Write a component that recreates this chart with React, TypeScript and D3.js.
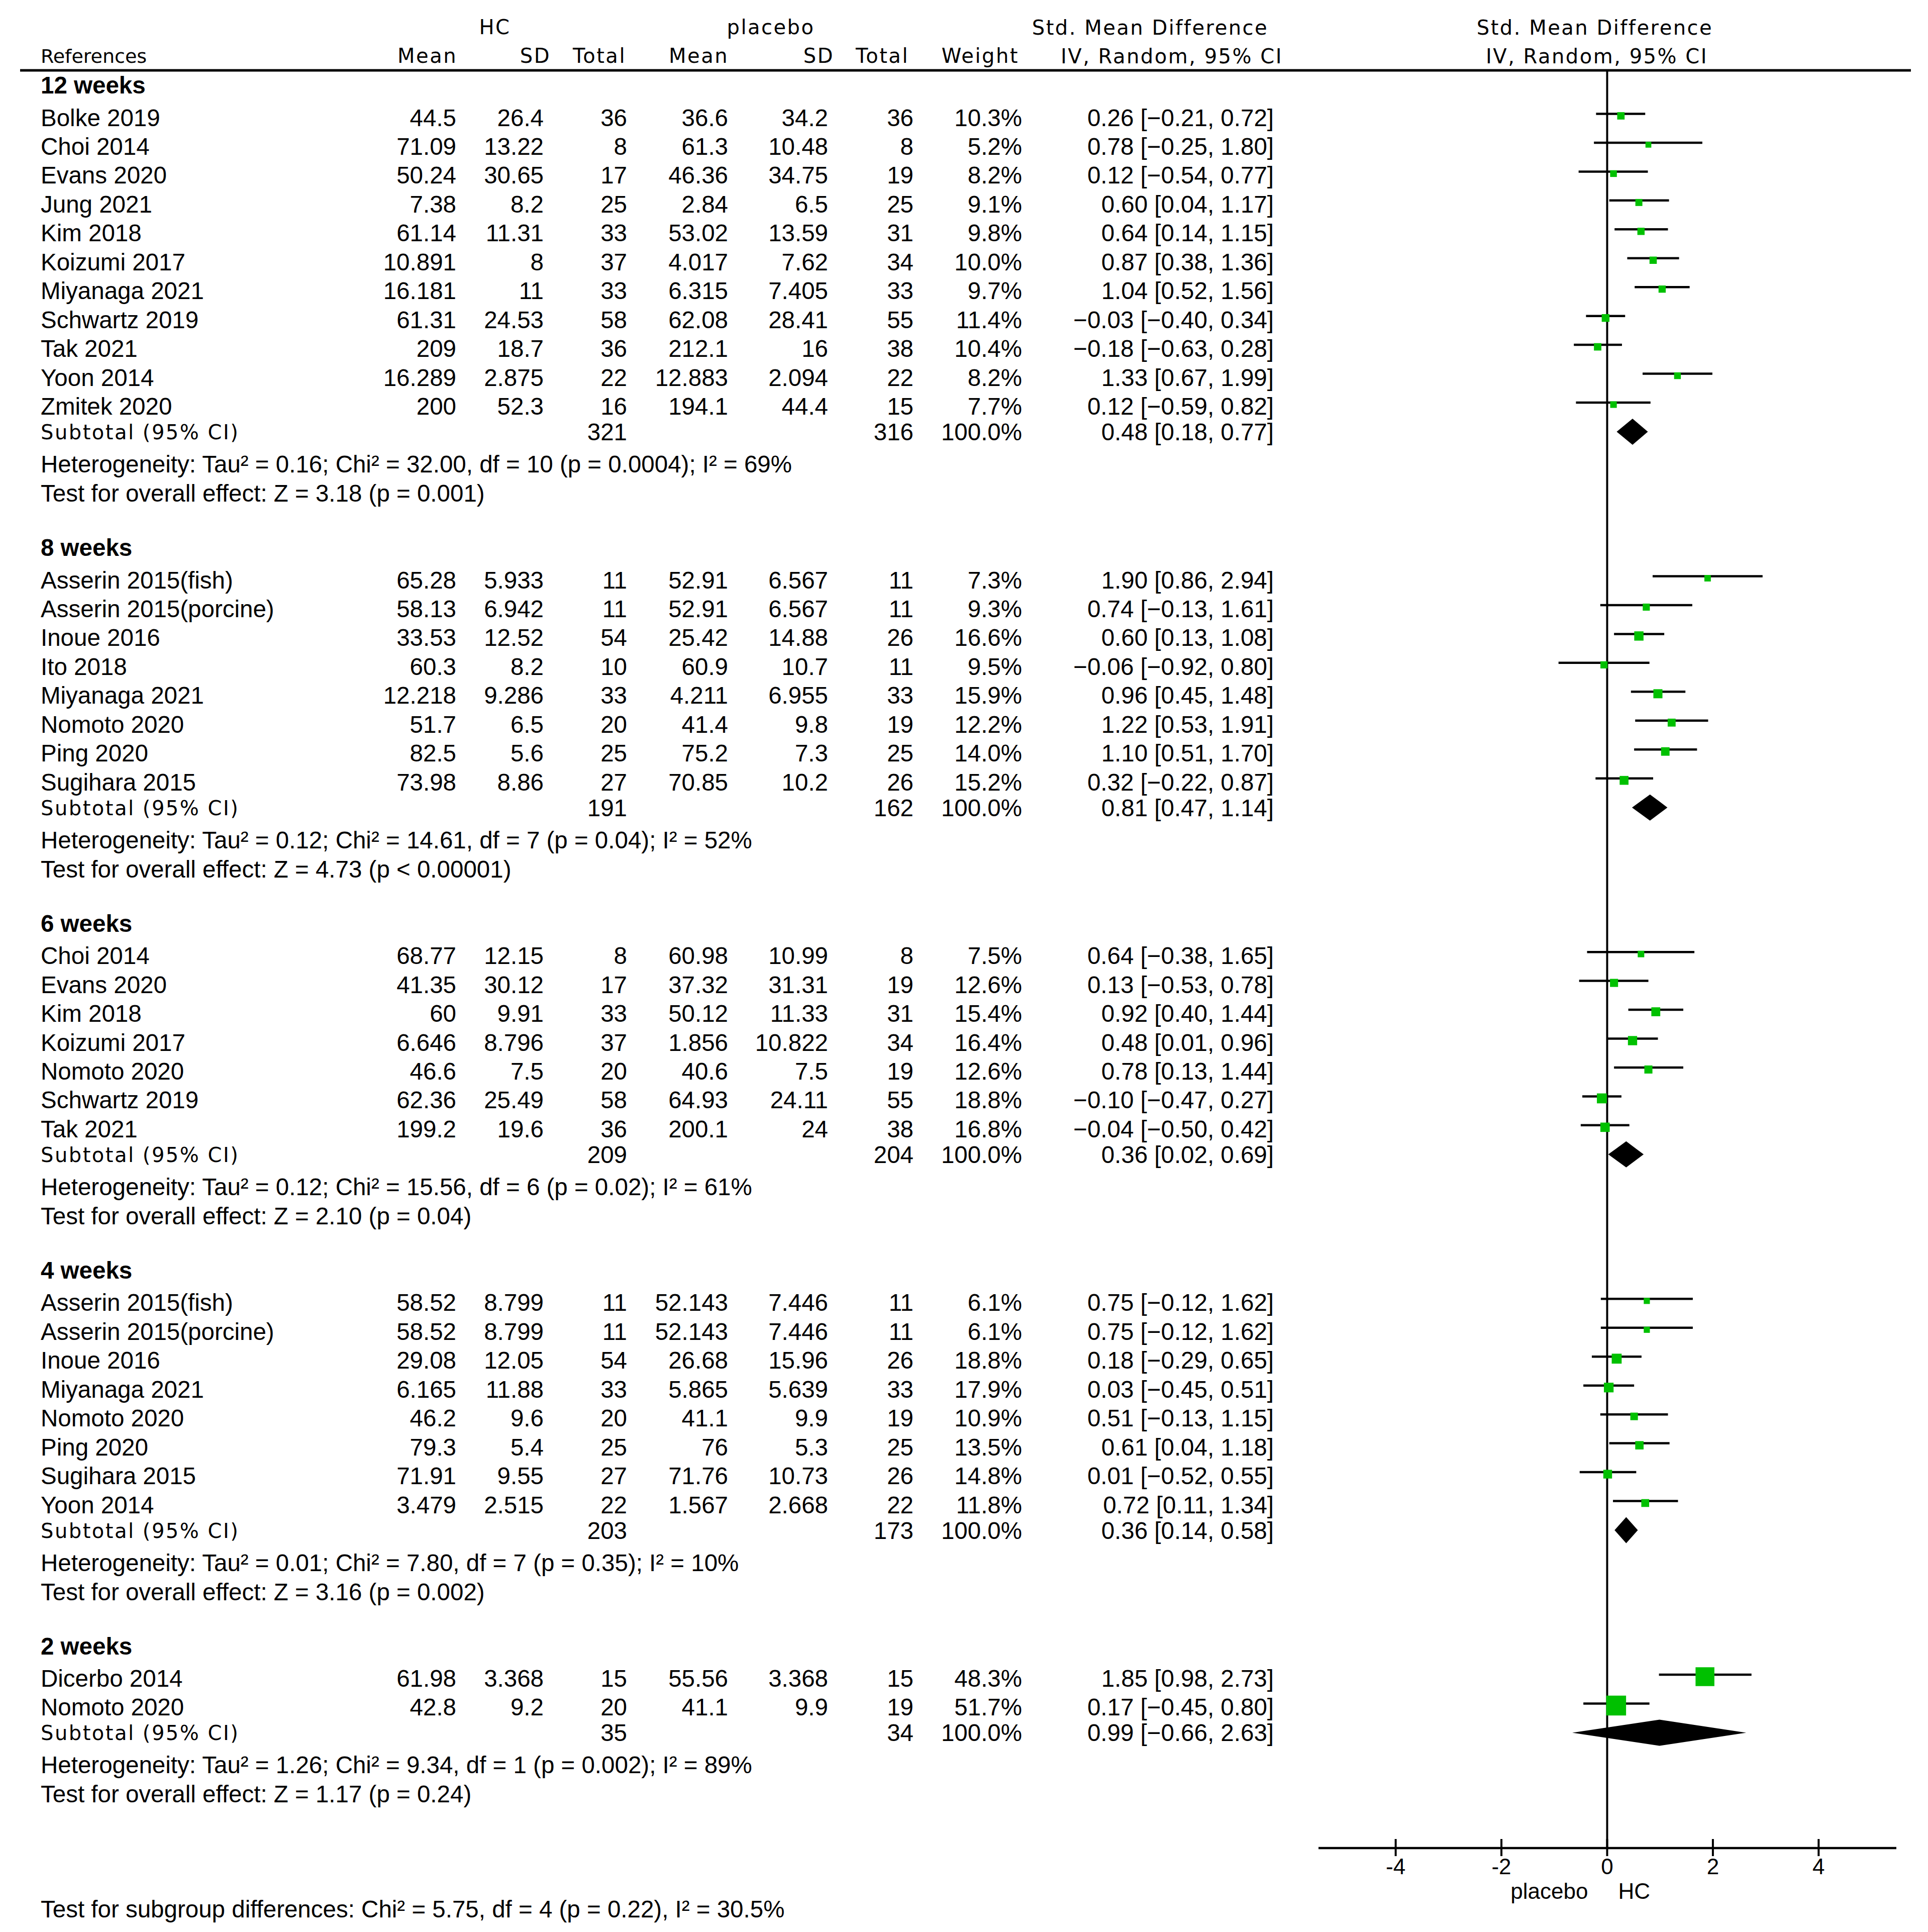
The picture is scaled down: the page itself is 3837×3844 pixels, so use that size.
import React from "react";
import * as d3 from "d3";

// ---------- DATA ----------
const groupLabels = ["12 weeks", "8 weeks", "6 weeks", "4 weeks", "2 weeks"];
const groupSizes = [11, 8, 7, 8, 2];

const studyNames = [
  "Bolke 2019", "Choi 2014", "Evans 2020", "Jung 2021", "Kim 2018", "Koizumi 2017", "Miyanaga 2021", "Schwartz 2019", "Tak 2021", "Yoon 2014", "Zmitek 2020",
  "Asserin 2015(fish)", "Asserin 2015(porcine)", "Inoue 2016", "Ito 2018", "Miyanaga 2021", "Nomoto 2020", "Ping 2020", "Sugihara 2015",
  "Choi 2014", "Evans 2020", "Kim 2018", "Koizumi 2017", "Nomoto 2020", "Schwartz 2019", "Tak 2021",
  "Asserin 2015(fish)", "Asserin 2015(porcine)", "Inoue 2016", "Miyanaga 2021", "Nomoto 2020", "Ping 2020", "Sugihara 2015", "Yoon 2014",
  "Dicerbo 2014", "Nomoto 2020",
];
const hcMean = [
  44.5, 71.09, 50.24, 7.38, 61.14, 10.891, 16.181, 61.31, 209, 16.289, 200,
  65.28, 58.13, 33.53, 60.3, 12.218, 51.7, 82.5, 73.98,
  68.77, 41.35, 60, 6.646, 46.6, 62.36, 199.2,
  58.52, 58.52, 29.08, 6.165, 46.2, 79.3, 71.91, 3.479,
  61.98, 42.8,
];
const hcSD = [
  26.4, 13.22, 30.65, 8.2, 11.31, 8, 11, 24.53, 18.7, 2.875, 52.3,
  5.933, 6.942, 12.52, 8.2, 9.286, 6.5, 5.6, 8.86,
  12.15, 30.12, 9.91, 8.796, 7.5, 25.49, 19.6,
  8.799, 8.799, 12.05, 11.88, 9.6, 5.4, 9.55, 2.515,
  3.368, 9.2,
];
const hcTotal = [
  36, 8, 17, 25, 33, 37, 33, 58, 36, 22, 16,
  11, 11, 54, 10, 33, 20, 25, 27,
  8, 17, 33, 37, 20, 58, 36,
  11, 11, 54, 33, 20, 25, 27, 22,
  15, 20,
];
const pbMean = [
  36.6, 61.3, 46.36, 2.84, 53.02, 4.017, 6.315, 62.08, 212.1, 12.883, 194.1,
  52.91, 52.91, 25.42, 60.9, 4.211, 41.4, 75.2, 70.85,
  60.98, 37.32, 50.12, 1.856, 40.6, 64.93, 200.1,
  52.143, 52.143, 26.68, 5.865, 41.1, 76, 71.76, 1.567,
  55.56, 41.1,
];
const pbSD = [
  34.2, 10.48, 34.75, 6.5, 13.59, 7.62, 7.405, 28.41, 16, 2.094, 44.4,
  6.567, 6.567, 14.88, 10.7, 6.955, 9.8, 7.3, 10.2,
  10.99, 31.31, 11.33, 10.822, 7.5, 24.11, 24,
  7.446, 7.446, 15.96, 5.639, 9.9, 5.3, 10.73, 2.668,
  3.368, 9.9,
];
const pbTotal = [
  36, 8, 19, 25, 31, 34, 33, 55, 38, 22, 15,
  11, 11, 26, 11, 33, 19, 25, 26,
  8, 19, 31, 34, 19, 55, 38,
  11, 11, 26, 33, 19, 25, 26, 22,
  15, 19,
];
const weights = [
  10.3, 5.2, 8.2, 9.1, 9.8, 10.0, 9.7, 11.4, 10.4, 8.2, 7.7,
  7.3, 9.3, 16.6, 9.5, 15.9, 12.2, 14.0, 15.2,
  7.5, 12.6, 15.4, 16.4, 12.6, 18.8, 16.8,
  6.1, 6.1, 18.8, 17.9, 10.9, 13.5, 14.8, 11.8,
  48.3, 51.7,
];
const smd = [
  0.26, 0.78, 0.12, 0.6, 0.64, 0.87, 1.04, -0.03, -0.18, 1.33, 0.12,
  1.9, 0.74, 0.6, -0.06, 0.96, 1.22, 1.1, 0.32,
  0.64, 0.13, 0.92, 0.48, 0.78, -0.1, -0.04,
  0.75, 0.75, 0.18, 0.03, 0.51, 0.61, 0.01, 0.72,
  1.85, 0.17,
];
const ciLow = [
  -0.21, -0.25, -0.54, 0.04, 0.14, 0.38, 0.52, -0.4, -0.63, 0.67, -0.59,
  0.86, -0.13, 0.13, -0.92, 0.45, 0.53, 0.51, -0.22,
  -0.38, -0.53, 0.4, 0.01, 0.13, -0.47, -0.5,
  -0.12, -0.12, -0.29, -0.45, -0.13, 0.04, -0.52, 0.11,
  0.98, -0.45,
];
const ciHigh = [
  0.72, 1.8, 0.77, 1.17, 1.15, 1.36, 1.56, 0.34, 0.28, 1.99, 0.82,
  2.94, 1.61, 1.08, 0.8, 1.48, 1.91, 1.7, 0.87,
  1.65, 0.78, 1.44, 0.96, 1.44, 0.27, 0.42,
  1.62, 1.62, 0.65, 0.51, 1.15, 1.18, 0.55, 1.34,
  2.73, 0.8,
];

const subtotalHC = [321, 191, 209, 203, 35];
const subtotalPB = [316, 162, 204, 173, 34];
const subtotalSMD = [0.48, 0.81, 0.36, 0.36, 0.99];
const subtotalLow = [0.18, 0.47, 0.02, 0.14, -0.66];
const subtotalHigh = [0.77, 1.14, 0.69, 0.58, 2.63];
const heterogeneity = [
  "Heterogeneity: Tau² = 0.16; Chi² = 32.00, df = 10 (p = 0.0004); I² = 69%",
  "Heterogeneity: Tau² = 0.12; Chi² = 14.61, df = 7 (p = 0.04); I² = 52%",
  "Heterogeneity: Tau² = 0.12; Chi² = 15.56, df = 6 (p = 0.02); I² = 61%",
  "Heterogeneity: Tau² = 0.01; Chi² = 7.80, df = 7 (p = 0.35); I² = 10%",
  "Heterogeneity: Tau² = 1.26; Chi² = 9.34, df = 1 (p = 0.002); I² = 89%",
];
const overallEffect = [
  "Test for overall effect: Z = 3.18 (p = 0.001)",
  "Test for overall effect: Z = 4.73 (p < 0.00001)",
  "Test for overall effect: Z = 2.10 (p = 0.04)",
  "Test for overall effect: Z = 3.16 (p = 0.002)",
  "Test for overall effect: Z = 1.17 (p = 0.24)",
];
const subgroupTest = "Test for subgroup differences: Chi² = 5.75, df = 4 (p = 0.22), I² = 30.5%";
const axisTicks = [-4, -2, 0, 2, 4];
const favoursLeft = "placebo";
const favoursRight = "HC";

// ---------- LAYOUT ----------
const W = 3837;
const H = 3844;
const BODY = "'Liberation Sans', Arial, Helvetica, sans-serif";
const HEAD = "'DejaVu Sans', Verdana, sans-serif";
const BODY_SIZE = 47.5;
const HEAD_SIZE = 40;
const HEAD_LS = 2.5;
const GREEN = "#00c000";

const x = d3.scaleLinear().domain([-5.46, 5.47]).range([2624, 3774]);
const boxSize = d3.scaleLinear().domain([0, 50]).range([8.5, 38.5]);
const f2 = d3.format(".2f");
const f1 = d3.format(".1f");

const col = {
  name: 81,
  hcMean: 908,
  hcSD: 1082,
  hcTotal: 1248,
  pbMean: 1449,
  pbSD: 1648,
  pbTotal: 1818,
  weight: 2034,
  effect: 2535,
};

type Row = { kind: string; g: number; i?: number; y: number };
const rows: Row[] = [];
(() => {
  let y = 169;
  let si = 0;
  groupLabels.forEach((_, g) => {
    if (g > 0) y += 108;
    rows.push({ kind: "group", g, y });
    y += 64.5;
    for (let k = 0; k < groupSizes[g]; k++) {
      if (k > 0) y += 57.45;
      rows.push({ kind: "study", g, i: si++, y });
    }
    y += 51;
    rows.push({ kind: "subtotal", g, y });
    y += 64;
    rows.push({ kind: "het", g, y });
    y += 58;
    rows.push({ kind: "test", g, y });
  });
})();

const AXIS_Y = 3677;
const TOP_Y = 140;

function T(props: any) {
  const { x: tx, y: ty, anchor = "start", size = BODY_SIZE, font = BODY, weight = "normal", ls = 0, children } = props;
  return (
    <text
      x={tx}
      y={ty}
      textAnchor={anchor}
      fontSize={size}
      fontFamily={font}
      fontWeight={weight}
      letterSpacing={ls}
      fill="#000"
    >
      {children}
    </text>
  );
}

function HT(props: any) {
  return <T font={HEAD} size={HEAD_SIZE} ls={HEAD_LS} {...props} />;
}

export default function App() {
  const effectText = (m: number, lo: number, hi: number) => `${f2(m)} [${f2(lo)}, ${f2(hi)}]`;
  return (
    <svg
      width={W}
      height={H}
      viewBox={`0 0 ${W} ${H}`}
      style={{ position: "absolute", left: 0, top: 0, background: "#fff", display: "block" }}
    >
      <rect x={0} y={0} width={W} height={H} fill="#fff" />

      {/* Headers */}
      <HT x={985} y={68} anchor="middle">HC</HT>
      <HT x={1534} y={68} anchor="middle">placebo</HT>
      <HT x={2289} y={69} anchor="middle">Std. Mean Difference</HT>
      <HT x={3174} y={69} anchor="middle">Std. Mean Difference</HT>
      <HT x={81} y={125} size={38} ls={0}>References</HT>
      <HT x={910} y={125} anchor="end">Mean</HT>
      <HT x={1096} y={125} anchor="end">SD</HT>
      <HT x={1246} y={125} anchor="end">Total</HT>
      <HT x={1450} y={125} anchor="end">Mean</HT>
      <HT x={1660} y={125} anchor="end">SD</HT>
      <HT x={1809} y={125} anchor="end">Total</HT>
      <HT x={2028} y={125} anchor="end">Weight</HT>
      <HT x={2332} y={126} anchor="middle">IV, Random, 95% CI</HT>
      <HT x={3178} y={126} anchor="middle">IV, Random, 95% CI</HT>

      {/* top rule */}
      <line x1={40} x2={3803} y1={TOP_Y} y2={TOP_Y} stroke="#000" strokeWidth={5} />

      {/* zero line */}
      <line x1={x(0)} x2={x(0)} y1={TOP_Y} y2={AXIS_Y} stroke="#000" strokeWidth={4} />

      {rows.map((r, k) => {
        const base = r.y + 17;
        if (r.kind === "group") {
          return <T key={k} x={col.name} y={base} weight="bold">{groupLabels[r.g]}</T>;
        }
        if (r.kind === "study") {
          const i = r.i as number;
          const s = boxSize(weights[i]);
          const ly = r.y - 7;
          return (
            <g key={k}>
              <T x={col.name} y={base}>{studyNames[i]}</T>
              <T x={col.hcMean} y={base} anchor="end">{String(hcMean[i])}</T>
              <T x={col.hcSD} y={base} anchor="end">{String(hcSD[i])}</T>
              <T x={col.hcTotal} y={base} anchor="end">{String(hcTotal[i])}</T>
              <T x={col.pbMean} y={base} anchor="end">{String(pbMean[i])}</T>
              <T x={col.pbSD} y={base} anchor="end">{String(pbSD[i])}</T>
              <T x={col.pbTotal} y={base} anchor="end">{String(pbTotal[i])}</T>
              <T x={col.weight} y={base} anchor="end">{f1(weights[i]) + "%"}</T>
              <T x={col.effect} y={base} anchor="end">{effectText(smd[i], ciLow[i], ciHigh[i])}</T>
              <line x1={x(ciLow[i])} x2={x(ciHigh[i])} y1={ly} y2={ly} stroke="#000" strokeWidth={4.5} />
              <rect x={x(smd[i]) - s / 2} y={r.y - 3 - s / 2} width={s} height={s} fill={GREEN} />
            </g>
          );
        }
        if (r.kind === "subtotal") {
          const g = r.g;
          const cx = x(subtotalSMD[g]);
          const pts = [
            [x(subtotalLow[g]), r.y],
            [cx, r.y - 26],
            [x(subtotalHigh[g]), r.y],
            [cx, r.y + 26],
          ];
          return (
            <g key={k}>
              <HT x={col.name} y={r.y + 15}>Subtotal (95% CI)</HT>
              <T x={col.hcTotal} y={base} anchor="end">{String(subtotalHC[g])}</T>
              <T x={col.pbTotal} y={base} anchor="end">{String(subtotalPB[g])}</T>
              <T x={col.weight} y={base} anchor="end">100.0%</T>
              <T x={col.effect} y={base} anchor="end">{effectText(subtotalSMD[g], subtotalLow[g], subtotalHigh[g])}</T>
              <polygon points={pts.map((p) => p.join(",")).join(" ")} fill="#000" />
            </g>
          );
        }
        if (r.kind === "het") {
          return <T key={k} x={col.name} y={base}>{heterogeneity[r.g]}</T>;
        }
        return <T key={k} x={col.name} y={base}>{overallEffect[r.g]}</T>;
      })}

      {/* axis */}
      <line x1={x.range()[0]} x2={x.range()[1]} y1={AXIS_Y} y2={AXIS_Y} stroke="#000" strokeWidth={4.5} />
      {axisTicks.map((t) => (
        <g key={t}>
          <line x1={x(t)} x2={x(t)} y1={AXIS_Y - 18} y2={AXIS_Y + 16} stroke="#000" strokeWidth={4} />
          <T x={x(t)} y={3729} anchor="middle" size={44}>{String(t)}</T>
        </g>
      ))}
      <T x={x(0) - 38} y={3778} anchor="end" size={44}>{favoursLeft}</T>
      <T x={x(0) + 22} y={3778} size={44}>{favoursRight}</T>

      <T x={col.name} y={3815}>{subgroupTest}</T>
    </svg>
  );
}
